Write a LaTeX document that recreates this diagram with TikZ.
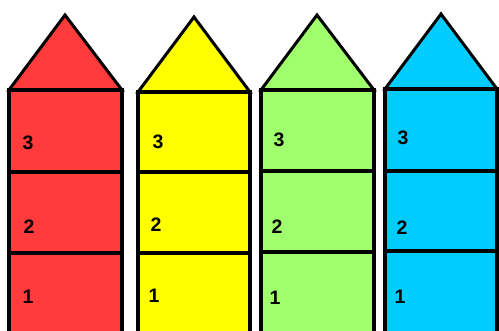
\documentclass[tikz,border=0pt]{standalone}
\usepackage{fontspec}
\setmainfont{Liberation Sans}
\usepackage{tikz}
\usepackage{xcolor}
\definecolor{redhouse}{HTML}{FF3B3B}
\definecolor{yellowhouse}{HTML}{FFFF00}
\definecolor{greenhouse}{HTML}{A0FF6C}
\definecolor{bluehouse}{HTML}{00CCFF}

\begin{document}
\begin{tikzpicture}[x=1pt,y=-1pt,line join=miter,
  roof/.style={draw=black,line width=3pt},
  wall/.style={draw=black,line width=4pt},
  floorline/.style={draw=black,line width=3.2pt},
  num/.style={font=\bfseries\fontsize{19.5}{19.5}\selectfont,inner sep=0pt}]
\useasboundingbox (0,0) rectangle (499,331);
\begin{scope}
\clip (0,0) rectangle (499,331);
% red house
\filldraw[roof,fill=redhouse] (9,90) -- (65,15) -- (122,90) -- cycle;
\filldraw[wall,fill=redhouse] (9,90) rectangle (122,345);
\draw[floorline] (9,172) -- (122,172);
\draw[floorline] (9,253) -- (122,253);
% yellow house
\filldraw[roof,fill=yellowhouse] (138,92) -- (194,17) -- (250,92) -- cycle;
\filldraw[wall,fill=yellowhouse] (138,92) rectangle (250,345);
\draw[floorline] (138,172) -- (250,172);
\draw[floorline] (138,253) -- (250,253);
% green house
\filldraw[roof,fill=greenhouse] (261,90) -- (317,15) -- (374,90) -- cycle;
\filldraw[wall,fill=greenhouse] (261,90) rectangle (374,345);
\draw[floorline] (261,171) -- (374,171);
\draw[floorline] (261,252) -- (374,252);
% blue house
\filldraw[roof,fill=bluehouse] (385,89) -- (441,14) -- (497,89) -- cycle;
\filldraw[wall,fill=bluehouse] (385,89) rectangle (497,345);
\draw[floorline] (385,171) -- (497,171);
\draw[floorline] (385,251) -- (497,251);
\end{scope}
% floor numbers
\node[num] (r3) at (28,143) {3};
\node[num] (r2) at (29,227) {2};
\node[num] (r1) at (28,297) {1};
\node[num] (y3) at (158,142) {3};
\node[num] (y2) at (156,225) {2};
\node[num] (y1) at (154,296) {1};
\node[num] (g3) at (279,140) {3};
\node[num] (g2) at (277,227) {2};
\node[num] (g1) at (275,298) {1};
\node[num] (b3) at (403,138) {3};
\node[num] (b2) at (402,228) {2};
\node[num] (b1) at (400,297) {1};
\end{tikzpicture}
\end{document}
